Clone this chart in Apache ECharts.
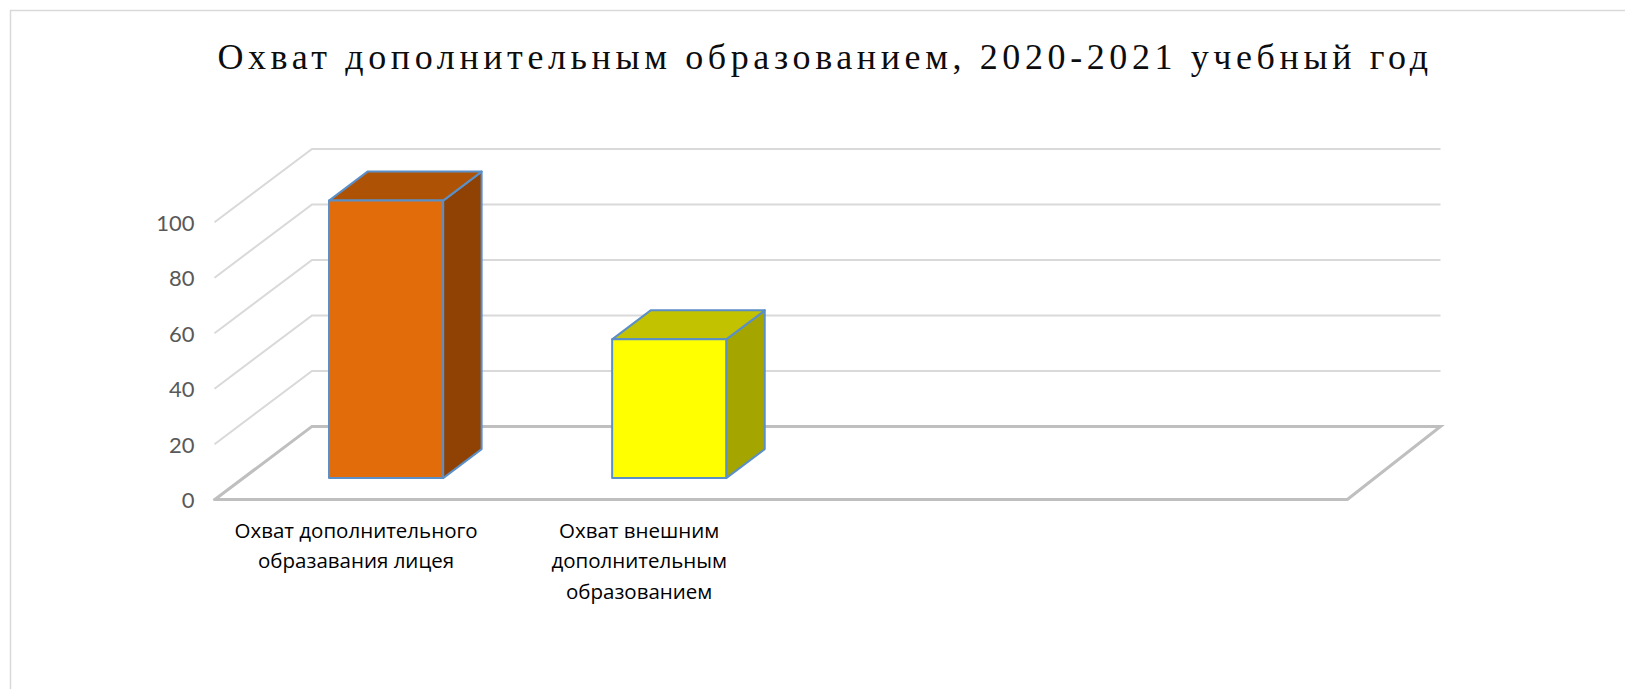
<!DOCTYPE html>
<html><head><meta charset="utf-8">
<style>html,body{margin:0;padding:0;background:#fff}#c{width:1625px;height:689px}</style>
<script src="https://cdn.jsdelivr.net/npm/echarts@6/dist/echarts.min.js"></script>
</head><body><div id="c"></div>
<script>
const titleText = 'Охват дополнительным образованием, 2020-2021 учебный год';
const categories = ['Охват дополнительного\nобразавания лицея', 'Охват внешним\nдополнительным\nобразованием', '', ''];
const coverage = [100, 50];
const yTicks = [0, 20, 40, 60, 80, 100];
const frontColors = ['#E36C0A', '#FFFF00'];
const topColors = ['#AE5206', '#C2C200'];
const sideColors = ['#8F4204', '#A5A500'];

const WALL_DX_LEFT = 97.5, WALL_DX_RIGHT = 93.5, WALL_DY = -73.3;
const BAR_SHIFT_X = 30, BAR_SHIFT_Y = -21.6, BAR_DX = 38.5, BAR_DY = -29, BAR_W = 0.403;
const BORDER = '#5B8FC7';

const chart = echarts.init(document.getElementById('c'), null, {renderer: 'svg'});

function wallItem(params, api) {
  const v = api.value(1);
  const y = api.coord([0, v])[1];
  const cs = params.coordSys;
  const l = cs.x, r = cs.x + cs.width;
  const isFloor = v === 0;
  const pts = [[l, y], [l + WALL_DX_LEFT, y + WALL_DY], [r + WALL_DX_RIGHT, y + WALL_DY]];
  if (isFloor) pts.push([r, y]);
  return {
    type: 'polyline',
    shape: {points: pts},
    style: {fill: null, stroke: isFloor ? '#BFBFBF' : '#D9D9D9', lineWidth: isFloor ? 3 : 2},
    silent: true
  };
}

function barItem(params, api) {
  const i = params.dataIndex;
  const c0 = api.coord([i, 0]);
  const c1 = api.coord([i, api.value(1)]);
  const w = api.size([1, 0])[0] * BAR_W;
  const x0 = c0[0] + BAR_SHIFT_X - w / 2, x1 = x0 + w;
  const yb = c0[1] + BAR_SHIFT_Y, yt = c1[1] + BAR_SHIFT_Y;
  const stroke = {stroke: BORDER, lineWidth: 2, lineJoin: 'round'};
  return {
    type: 'group',
    children: [
      {type: 'polygon', shape: {points: [[x1, yb], [x1 + BAR_DX, yb + BAR_DY], [x1 + BAR_DX, yt + BAR_DY], [x1, yt]]},
        style: Object.assign({fill: sideColors[i]}, stroke)},
      {type: 'polygon', shape: {points: [[x0, yt], [x0 + BAR_DX, yt + BAR_DY], [x1 + BAR_DX, yt + BAR_DY], [x1, yt]]},
        style: Object.assign({fill: topColors[i]}, stroke)},
      {type: 'polygon', shape: {points: [[x0, yb], [x0, yt], [x1, yt], [x1, yb]]},
        style: Object.assign({fill: frontColors[i]}, stroke)}
    ]
  };
}

chart.setOption({
  animation: false,
  backgroundColor: '#fff',
  title: {
    text: titleText, left: 820, top: 34, textAlign: 'center',
    textStyle: {fontFamily: '"Liberation Serif"', fontSize: 36, fontWeight: 'normal', color: '#0d0d0d'}
  },
  graphic: [{
    type: 'polyline', silent: true,
    shape: {points: [[10.5, 689], [10.5, 10.5], [1625, 10.5]]},
    style: {fill: null, stroke: '#D9D9D9', lineWidth: 1.5}
  }],
  grid: {left: 214.5, top: 222.2, width: 1132.5, height: 277.5, containLabel: false},
  xAxis: {
    type: 'category', data: categories,
    axisTick: {show: false},
    axisLine: {show: true, lineStyle: {color: '#BFBFBF', width: 3}},
    axisLabel: {interval: 0, margin: 15, color: '#000', fontFamily: '"Open Sans"', fontSize: 20.5, lineHeight: 30.5}
  },
  yAxis: {
    type: 'value', min: 0, max: 100, interval: 20,
    axisLine: {show: false}, axisTick: {show: false}, splitLine: {show: false},
    axisLabel: {margin: 20, color: '#595959', fontFamily: 'Lato', fontSize: 22}
  },
  series: [
    {type: 'custom', name: 'Сетка', z: 1, silent: true, data: yTicks.map(t => [0, t]), renderItem: wallItem},
    {type: 'custom', name: 'Охват', z: 3, data: coverage.map((v, i) => [i, v]), renderItem: barItem}
  ]
});

function spaceTitle() {
  document.querySelectorAll('#c svg text').forEach(t => {
    if (t.textContent === titleText) t.style.letterSpacing = '4.6px';
  });
}
spaceTitle();
chart.on('finished', spaceTitle);
</script>
</body></html>
